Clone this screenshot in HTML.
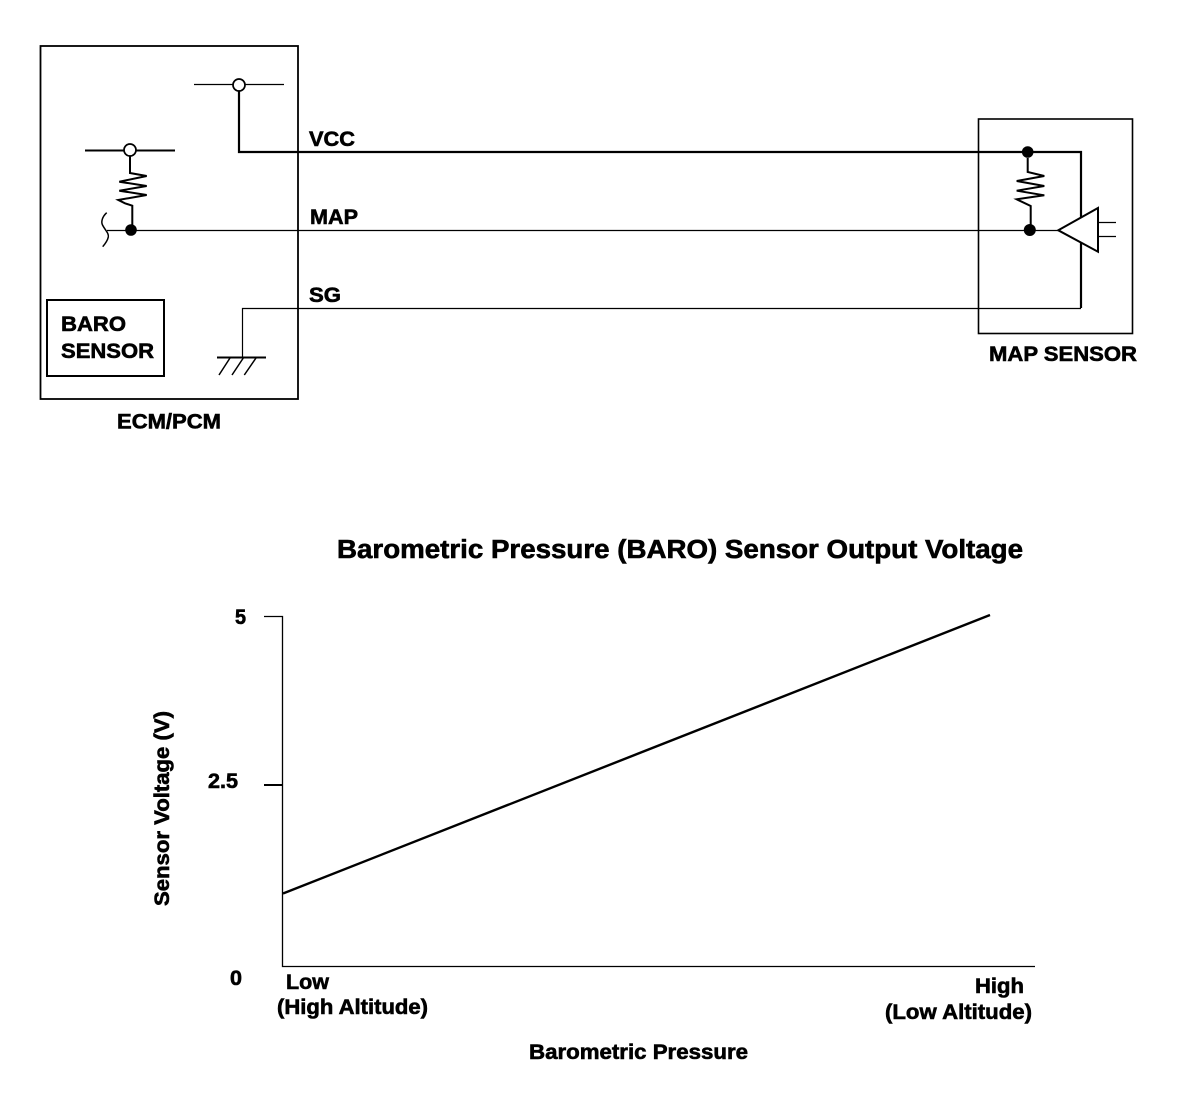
<!DOCTYPE html>
<html>
<head>
<meta charset="utf-8">
<style>
html,body{margin:0;padding:0;background:#fff;}
svg{display:block;}
text{font-family:"Liberation Sans",Arial,sans-serif;font-weight:bold;font-size:21px;fill:#000;stroke:#000;stroke-width:.6px;}
</style>
</head>
<body>
<svg width="1184" height="1108" viewBox="0 0 1184 1108" xmlns="http://www.w3.org/2000/svg">
<g fill="none" stroke="#000">
  <!-- ECM box -->
  <rect x="40.5" y="46" width="257.5" height="353" stroke-width="1.8"/>
  <!-- BARO box -->
  <rect x="47" y="300" width="117" height="76" stroke-width="2"/>
  <!-- MAP sensor box -->
  <rect x="978.5" y="119" width="154" height="214.5" stroke-width="1.6"/>

  <!-- top supply -->
  <line x1="194" y1="84.5" x2="284" y2="84.5" stroke-width="1.2"/>
  <path d="M239 91V152H1081V225" stroke-width="2.2"/>
  <path d="M1081 236V308" stroke-width="2.2"/>
  <path d="M1081 308.5H242.5V357" stroke-width="1.2"/>
  <!-- left supply -->
  <line x1="85" y1="150.5" x2="175" y2="150.5" stroke-width="2"/>
  <!-- left resistor -->
  <polyline points="130,156 130,173 146.7,176 119.3,181.7 146.7,186 119.3,190.7 146.7,195 118.3,200 125,203.3 132.3,205.7 132.3,225" stroke-width="2"/>
  <!-- MAP signal -->
  <line x1="107" y1="230.5" x2="1058" y2="230.5" stroke-width="1.2"/>
  <!-- squiggle -->
  <path d="M106.7 212.7C102 217 101 222 102.5 225C105 230 109 233 108.3 237C107.5 241 105 244 102.7 246.7" stroke-width="1.5"/>
  <!-- ground -->
  <line x1="217" y1="357.5" x2="266" y2="357.5" stroke-width="2"/>
  <path d="M230 358L219 375M243.3 358L232 375M256 358L244.3 375" stroke-width="1.5"/>
  <!-- right resistor -->
  <polyline points="1027.7,158 1027.7,172 1044.3,176 1016.7,181 1044.3,186 1016.7,190.7 1044.3,195.3 1016.7,199.3 1030.7,206 1030.7,225" stroke-width="2"/>
  <!-- triangle -->
  <polygon points="1058.3,230.3 1098,208 1098,251.7" fill="#fff" stroke-width="2"/>
  <line x1="1098" y1="222.5" x2="1116" y2="222.5" stroke-width="1.2"/>
  <line x1="1098" y1="236.5" x2="1116" y2="236.5" stroke-width="1.2"/>

  <!-- chart -->
  <path d="M264 616.5H282.5V966.5H1035" stroke-width="1.3"/>
  <line x1="264" y1="785" x2="283" y2="785" stroke-width="2"/>
  <line x1="283" y1="893.5" x2="990" y2="615" stroke-width="2.4"/>
</g>
<!-- nodes -->
<circle cx="239" cy="85" r="6" fill="#fff" stroke="#000" stroke-width="1.7"/>
<circle cx="130" cy="150" r="6" fill="#fff" stroke="#000" stroke-width="1.7"/>
<circle cx="131" cy="230" r="5.8" fill="#000"/>
<circle cx="1027.7" cy="152" r="5.8" fill="#000"/>
<circle cx="1029.8" cy="230" r="6" fill="#000"/>

<!-- labels -->
<text x="309" y="146" textLength="46" lengthAdjust="spacingAndGlyphs">VCC</text>
<text x="310" y="224" textLength="48" lengthAdjust="spacingAndGlyphs">MAP</text>
<text x="309" y="302" textLength="32" lengthAdjust="spacingAndGlyphs">SG</text>
<text x="61" y="331" textLength="65" lengthAdjust="spacingAndGlyphs">BARO</text>
<text x="61" y="358" textLength="93" lengthAdjust="spacingAndGlyphs">SENSOR</text>
<text x="117" y="428.5" textLength="104" lengthAdjust="spacingAndGlyphs">ECM/PCM</text>
<text x="989" y="361" textLength="148" lengthAdjust="spacingAndGlyphs">MAP SENSOR</text>
<text x="337" y="558" textLength="686" lengthAdjust="spacingAndGlyphs" style="font-size:25.5px">Barometric Pressure (BARO) Sensor Output Voltage</text>
<text x="235" y="624" textLength="11" lengthAdjust="spacingAndGlyphs">5</text>
<text x="208" y="788" textLength="30" lengthAdjust="spacingAndGlyphs">2.5</text>
<text x="230" y="985" textLength="12" lengthAdjust="spacingAndGlyphs">0</text>
<text transform="translate(169,906) rotate(-90)" textLength="195" lengthAdjust="spacingAndGlyphs">Sensor Voltage (V)</text>
<text x="286" y="989" textLength="43" lengthAdjust="spacingAndGlyphs">Low</text>
<text x="277" y="1014" textLength="151" lengthAdjust="spacingAndGlyphs">(High Altitude)</text>
<text x="975" y="993" textLength="49" lengthAdjust="spacingAndGlyphs">High</text>
<text x="885" y="1019" textLength="147" lengthAdjust="spacingAndGlyphs">(Low Altitude)</text>
<text x="529" y="1059" textLength="219" lengthAdjust="spacingAndGlyphs">Barometric Pressure</text>
</svg>
</body>
</html>
